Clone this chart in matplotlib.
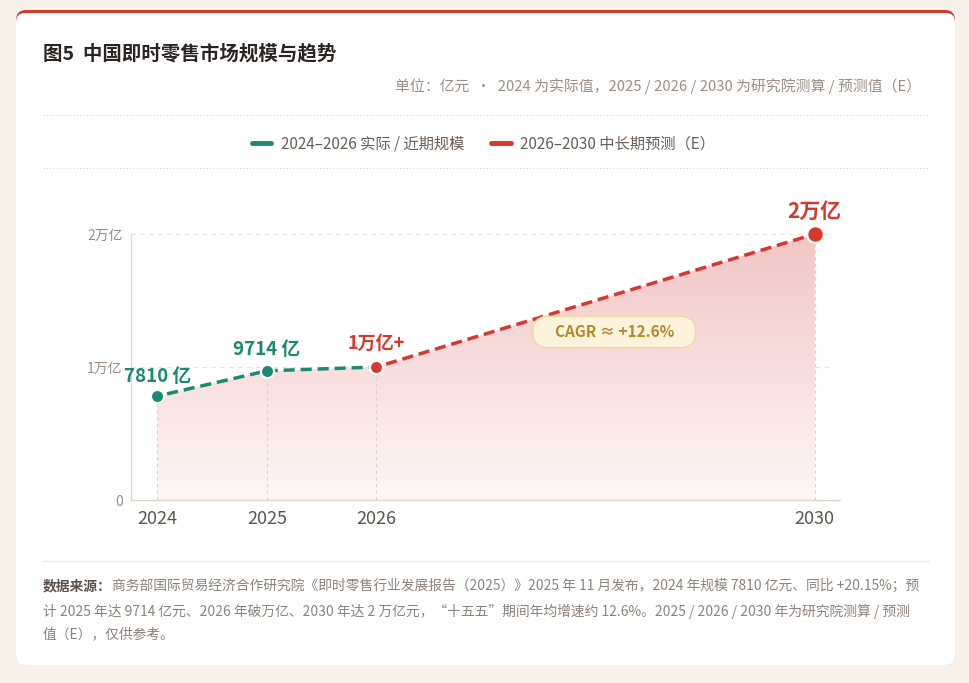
import numpy as np
import matplotlib
matplotlib.use("Agg")
import matplotlib.pyplot as plt
from matplotlib.patches import FancyBboxPatch
from matplotlib.lines import Line2D
from matplotlib.colors import LinearSegmentedColormap

plt.rcParams['font.family'] = ['Noto Sans CJK SC', 'DejaVu Sans']

# ── Data ──────────────────────────────────────────────────────────────────────
years = [2024, 2025, 2026, 2030]
values = [7810, 9714, 10000, 20000]
point_labels = ['7810 亿', '9714 亿', '1万亿+', '2万亿']
near_years = [2024, 2025, 2026]
near_values = [7810, 9714, 10000]
far_years = [2026, 2030]
far_values = [10000, 20000]
ytick_vals = [0, 10000, 20000]
ytick_labels = ['0', '1万亿', '2万亿']
cagr_text = 'CAGR ≈ +12.6%'

title = '图5  中国即时零售市场规模与趋势'
subtitle = '单位：亿元  ·  2024 为实际值，2025 / 2026 / 2030 为研究院测算 / 预测值（E）'
legend_labels = ['2024–2026 实际 / 近期规模', '2026–2030 中长期预测（E）']
source_head = '数据来源：'
source_lines = [
    '商务部国际贸易经济合作研究院《即时零售行业发展报告（2025）》2025 年 11 月发布，2024 年规模 7810 亿元、同比 +20.15%；预',
    '计 2025 年达 9714 亿元、2026 年破万亿、2030 年达 2 万亿元，“十五五”期间年均增速约 12.6%。2025 / 2026 / 2030 年为研究院测算 / 预测',
    '值（E），仅供参考。',
]

GREEN = '#1b8a72'
RED = '#d8382c'
W, H = 969, 683

fig = plt.figure(figsize=(W / 100, H / 100), dpi=100)
fig.patch.set_facecolor('#f7f1ea')

# ── Background card in pixel coordinates ─────────────────────────────────────
bg = fig.add_axes([0, 0, 1, 1], zorder=0)
bg.set_xlim(0, W)
bg.set_ylim(H, 0)
bg.axis('off')
bg.add_patch(FancyBboxPatch((16, 10), 939, 655, boxstyle='round,pad=0,rounding_size=10',
                            facecolor=RED, edgecolor='none'))
bg.add_patch(FancyBboxPatch((16, 13), 939, 652, boxstyle='round,pad=0,rounding_size=9',
                            facecolor='white', edgecolor='none'))

bg.text(43, 54, title, fontsize=14, fontweight='bold', color='#2a2522', va='center', ha='left')
bg.text(921, 86, subtitle, fontsize=10.7, color='#9a8f85', va='center', ha='right')
bg.plot([43, 928], [115, 115], color='#d9d4cf', lw=0.8, ls=(0, (1, 2)))
bg.plot([43, 928], [168, 168], color='#d9d4cf', lw=0.8, ls=(0, (1, 2)))
bg.plot([43, 928], [561, 561], color='#ece7e2', lw=1)

fs_src = 9.95
bg.text(43, 586, source_head, fontsize=fs_src, fontweight='bold', color='#5a5048', va='center', ha='left')
bg.text(112, 586, source_lines[0], fontsize=fs_src, color='#8d837a', va='center', ha='left')
bg.text(43, 611, source_lines[1], fontsize=fs_src, color='#8d837a', va='center', ha='left')
bg.text(43, 634, source_lines[2], fontsize=fs_src, color='#8d837a', va='center', ha='left')

# ── Legend ────────────────────────────────────────────────────────────────────
handles = [Line2D([], [], color=GREEN, lw=3.5, solid_capstyle='round'),
           Line2D([], [], color=RED, lw=3.5, solid_capstyle='round')]
fig.legend(handles, legend_labels, loc='center', bbox_to_anchor=(0.499, 1 - 144 / H),
           ncol=2, frameon=False, fontsize=11, labelcolor='#6b5f55',
           handlelength=1.25, handletextpad=0.6, columnspacing=1.8)

# ── Main chart ───────────────────────────────────────────────────────────────
ax = fig.add_axes([131 / W, 1 - 500 / H, 709 / W, 292.6 / H], zorder=2)
ax.patch.set_alpha(0)

for s in ['top', 'right']:
    ax.spines[s].set_visible(False)
for s in ['left', 'bottom']:
    ax.spines[s].set_color('#e6d6c6')
    ax.spines[s].set_linewidth(1)
ax.spines['left'].set_bounds(0, 20000)

ax.set_yticks(ytick_vals)
ax.set_yticklabels(ytick_labels)
ax.set_xticks(years)
ax.set_xticklabels([str(y) for y in years])
ax.tick_params(axis='y', length=0, pad=6, labelsize=10, labelcolor='#9a8f85')
ax.tick_params(axis='x', length=0, pad=7, labelsize=13, labelcolor='#5c5650')

for yv in ytick_vals[1:]:
    ax.axhline(yv, xmax=0.99, color='#e9e3dd', lw=0.8, ls=(0, (4, 4)), zorder=1)
for x, v in zip(years, values):
    ax.plot([x, x], [0, v], color='#d9d2cc', lw=0.8, ls=(0, (3, 3)), zorder=1)

# gradient fill under the whole line
poly = ax.fill_between(years, values, 0, color='none', lw=0)
cmap = LinearSegmentedColormap.from_list('pinkfade', ['#fef7f6', '#f2c5c5'])
grad = np.linspace(0, 1, 256).reshape(-1, 1)
im = ax.imshow(grad, cmap=cmap, origin='lower', aspect='auto',
               extent=[years[0], years[-1], 0, max(values)], zorder=0.5)
im.set_clip_path(poly.get_paths()[0], transform=ax.transData)
ax.set_xlim(2023.76, 2030.23)
ax.set_ylim(0, 22000)

ax.plot(near_years, near_values, color=GREEN, lw=2.5, ls=(2, (3.2, 1.7)), zorder=3)
ax.plot(far_years, far_values, color=RED, lw=2.5, ls=(2, (3.2, 1.7)), zorder=3)

marker_colors = [GREEN, GREEN, RED, RED]
marker_sizes = [9.5, 9.5, 9.5, 12]
for x, v, c, ms in zip(years, values, marker_colors, marker_sizes):
    ax.plot(x, v, 'o', color=c, ms=ms, mec='white', mew=1.6, zorder=4)

label_offsets = [14, 15, 17, 16]
label_sizes = [13.5, 13.5, 13, 15]
for x, v, lab, c, off, fs in zip(years, values, point_labels, marker_colors, label_offsets, label_sizes):
    ax.annotate(lab, (x, v), xytext=(0, off), textcoords='offset points',
                ha='center', va='center', fontsize=fs, fontweight='bold', color=c, zorder=5)

ax.text(2028.17, 12630, '    ' + cagr_text + '    ', ha='center', va='center', fontsize=11,
        fontweight='bold', color='#b58a2a', zorder=5,
        bbox=dict(boxstyle='round,pad=0.5,rounding_size=1.0', facecolor='#fdf3dc',
                  edgecolor='#efd9a6', lw=1))

fig.savefig('out.png', dpi=100)
